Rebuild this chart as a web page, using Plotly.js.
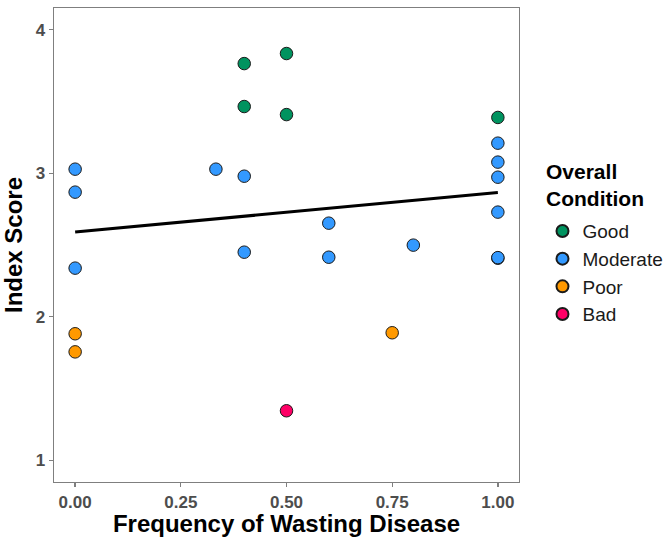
<!DOCTYPE html>
<html>
<head>
<meta charset="utf-8">
<script src="https://cdn.plot.ly/plotly-3.0.1.min.js"></script>
<style>html,body{margin:0;padding:0;background:#fff;}#chart{width:664px;height:537px;}</style>
</head>
<body>
<div id="chart"></div>
<script>
const conditions = ["Good", "Moderate", "Poor", "Bad"];
const colors = ["#00935F", "#3399FF", "#FF9900", "#FF0066"];
const legendTitle = "Overall<br>Condition";

const goodX = [0.4, 0.5, 0.4, 0.5, 1.0];
const goodY = [3.763, 3.833, 3.464, 3.408, 3.388];

const moderateX = [0, 0, 0, 0.333, 0.4, 0.4, 0.6, 0.6, 0.8, 1, 1, 1, 1, 1, 1];
const moderateY = [3.028, 2.868, 2.339, 3.028, 2.979, 2.450, 2.652, 2.415, 2.499, 3.209, 3.077, 2.972, 2.729, 2.408, 2.412];

const poorX = [0, 0, 0.75];
const poorY = [1.882, 1.756, 1.889];

const badX = [0.5];
const badY = [1.346];

const xTicks = [0, 0.25, 0.5, 0.75, 1];
const xTickLabels = ["0.00", "0.25", "0.50", "0.75", "1.00"];
const yTicks = [1, 2, 3, 4];

const groupsX = [goodX, moderateX, poorX, badX];
const groupsY = [goodY, moderateY, poorY, badY];

// linear fit over all points
const allX = [].concat(...groupsX);
const allY = [].concat(...groupsY);
const n = allX.length;
const mx = allX.reduce((a, b) => a + b, 0) / n;
const my = allY.reduce((a, b) => a + b, 0) / n;
let sxy = 0, sxx = 0;
for (let i = 0; i < n; i++) { sxy += (allX[i] - mx) * (allY[i] - my); sxx += (allX[i] - mx) ** 2; }
const slope = sxy / sxx;
const intercept = my - slope * mx;
const fitX = [Math.min(...allX), Math.max(...allX)];
const fitY = fitX.map(v => intercept + slope * v);

const traces = [{
  x: fitX, y: fitY, mode: "lines", type: "scatter",
  line: {color: "#000000", width: 3}, showlegend: false, hoverinfo: "skip"
}];
conditions.forEach((c, i) => {
  traces.push({
    x: groupsX[i], y: groupsY[i], mode: "markers", type: "scatter", name: c,
    marker: {color: colors[i], size: 12.5, line: {color: "#1a1a1a", width: 1}}
  });
});

const fam = "Liberation Sans, Arial, sans-serif";
const tickFont = {family: fam, size: 17, color: "#4D4D4D", weight: "bold"};
const titleFont = {family: fam, size: 24, color: "#000000", weight: "bold"};

const layout = {
  width: 664, height: 537,
  margin: {l: 54, r: 145, t: 8, b: 55},
  paper_bgcolor: "#ffffff", plot_bgcolor: "#ffffff",
  font: {family: fam},
  xaxis: {
    range: [-0.05, 1.05], tickvals: xTicks, ticktext: xTickLabels,
    showgrid: false, zeroline: false, showline: true, mirror: true,
    linecolor: "#7F7F7F", linewidth: 1.3,
    ticks: "outside", ticklen: 4, tickwidth: 1.3, tickcolor: "#7F7F7F",
    tickfont: tickFont, automargin: false,
    title: {text: "Frequency of Wasting Disease", font: titleFont}
  },
  yaxis: {
    range: [0.85, 4.15], tickvals: yTicks,
    showgrid: false, zeroline: false, showline: true, mirror: true,
    linecolor: "#7F7F7F", linewidth: 1.3,
    ticks: "outside", ticklen: 4, tickwidth: 1.3, tickcolor: "#7F7F7F",
    tickfont: tickFont, automargin: false,
    title: {text: "Index Score", font: titleFont}
  },
  legend: {
    xref: "container", yref: "container",
    x: 0.817, xanchor: "left", y: 0.605, yanchor: "top",
    font: {family: fam, size: 19, color: "#1a1a1a"},
    itemsizing: "constant", tracegroupgap: 0, bgcolor: "rgba(0,0,0,0)"
  },
  annotations: [{
    text: "<b>" + legendTitle + "</b>", xref: "paper", yref: "paper",
    x: 1.053, y: 0.6835, xanchor: "left", yanchor: "top", align: "left",
    showarrow: false, font: {family: fam, size: 21, color: "#000"}
  }],
  showlegend: true
};

Plotly.newPlot("chart", traces, layout, {displayModeBar: false, staticPlot: true});
</script>
</body>
</html>
